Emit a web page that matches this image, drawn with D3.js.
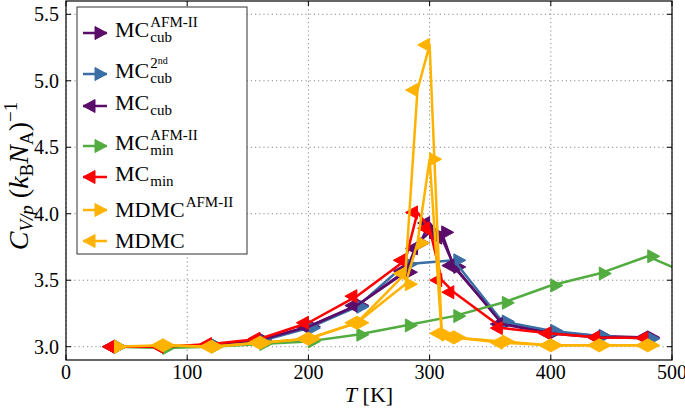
<!DOCTYPE html>
<html><head><meta charset="utf-8">
<script src="https://cdn.jsdelivr.net/npm/d3@7"></script>
<style>body{margin:0;background:#fff} svg{display:block}</style>
</head><body>
<script>
// ---- data ----
const mcCubAfmT = [40,80,120,160,200,240,280,290,300,310,320,360,400,440,480];
const mcCubAfmC = [3.00,3.00,3.01,3.05,3.15,3.31,3.56,3.78,3.86,3.86,3.60,3.18,3.11,3.08,3.07];
const mcCub2ndT = [40,80,120,160,200,240,280,320,360,400,440,480];
const mcCub2ndC = [3.00,3.00,3.01,3.04,3.14,3.30,3.62,3.65,3.19,3.12,3.08,3.06];
const mcCubT = [40,80,120,160,200,240,280,290,300,310,320,360,400,440,480];
const mcCubC = [3.00,3.00,3.01,3.05,3.15,3.31,3.57,3.74,3.93,3.82,3.61,3.17,3.10,3.07,3.07];
const mcMinAfmT = [40,80,120,160,200,240,280,320,360,400,440,480,520];
const mcMinAfmC = [3.00,2.99,3.00,3.02,3.04,3.09,3.16,3.23,3.33,3.46,3.55,3.68,3.52];
const mcMinT = [40,80,120,160,200,240,280,290,300,310,320,360,400,440,480];
const mcMinC = [3.00,3.00,3.02,3.06,3.18,3.38,3.65,4.01,3.89,3.50,3.41,3.14,3.10,3.07,3.065];
const mdmcAfmT = [40,80,120,160,200,240,280,290,300,310,320,360,400,440,480];
const mdmcAfmC = [3.00,3.01,3.00,3.03,3.06,3.18,3.47,3.78,4.41,3.09,3.07,3.04,3.01,3.01,3.01];
const mdmcT = [80,120,160,200,240,280,290,300,310,320,360,400,440,480];
const mdmcC = [3.01,3.00,3.03,3.06,3.18,3.55,4.93,5.27,3.10,3.07,3.03,3.01,3.01,3.01];

const xTicks = [0,100,200,300,400,500];
const yTicks = [3.0,3.5,4.0,4.5,5.0,5.5];
const xTickLabels = ["0","100","200","300","400","500"];
const yTickLabels = ["3.0","3.5","4.0","4.5","5.0","5.5"];

const series = [
  {T: mcCubAfmT, C: mcCubAfmC, color: "#5b0d6b", dir: 1, main: "MC", sup: "AFM-II", sub: "cub"},
  {T: mcCub2ndT, C: mcCub2ndC, color: "#3a6ea5", dir: 1, main: "MC", sup: "2nd", sub: "cub"},
  {T: mcCubT, C: mcCubC, color: "#5b0d6b", dir: -1, main: "MC", sup: null, sub: "cub"},
  {T: mcMinAfmT, C: mcMinAfmC, color: "#52ac40", dir: 1, main: "MC", sup: "AFM-II", sub: "min"},
  {T: mcMinT, C: mcMinC, color: "#ff0000", dir: -1, main: "MC", sup: null, sub: "min"},
  {T: mdmcAfmT, C: mdmcAfmC, color: "#ffb300", dir: 1, main: "MDMC", sup: "AFM-II", sub: null},
  {T: mdmcT, C: mdmcC, color: "#ffb300", dir: -1, main: "MDMC", sup: null, sub: null}
];

// ---- layout ----
const W = 685, H = 408;
const L = 66, R = 672, TOP = 1, BOT = 360;
const FONT = "'Liberation Serif', 'DejaVu Serif', serif";

const svg = d3.select("body").append("svg").attr("width", W).attr("height", H);
const x = d3.scaleLinear().domain([0,500]).range([L,R]);
const y = d3.scaleLinear().domain([2.9,5.6]).range([BOT,TOP]);

svg.append("defs").append("clipPath").attr("id","clip")
  .append("rect").attr("x",L).attr("y",TOP).attr("width",R-L).attr("height",BOT-TOP);

// grid
const grid = svg.append("g");
grid.selectAll("line.gx").data(xTicks).join("line")
  .attr("x1", d=>x(d)).attr("x2", d=>x(d)).attr("y1", TOP).attr("y2", BOT)
  .attr("stroke","#888").attr("stroke-width",1).attr("stroke-dasharray","1.2,3");
grid.selectAll("line.gy").data(yTicks).join("line")
  .attr("y1", d=>y(d)).attr("y2", d=>y(d)).attr("x1", L).attr("x2", R)
  .attr("stroke","#888").attr("stroke-width",1).attr("stroke-dasharray","1.2,3");

// caret marker (base at data point)
function caret(dir, len=12, hh=6.5){
  return `M0,${-hh}L${dir*len},0L0,${hh}Z`;
}

const plot = svg.append("g").attr("clip-path","url(#clip)");
const line = d3.line().x(d=>x(d[0])).y(d=>y(d[1]));
series.forEach(s=>{
  const pts = s.T.map((t,i)=>[t, s.C[i]]);
  const g = plot.append("g");
  g.append("path").datum(pts).attr("d", line)
    .attr("fill","none").attr("stroke", s.color).attr("stroke-width",2.5).attr("stroke-linejoin","round");
  g.selectAll("path.m").data(pts).join("path")
    .attr("d", caret(s.dir))
    .attr("transform", d=>`translate(${x(d[0])},${y(d[1])})`)
    .attr("fill", s.color).attr("stroke", s.color).attr("stroke-width",1);
});

// frame
svg.append("rect").attr("x",L).attr("y",TOP).attr("width",R-L).attr("height",BOT-TOP)
  .attr("fill","none").attr("stroke","#000").attr("stroke-width",1.2);

// ticks (inside, all sides)
const tk = svg.append("g").attr("stroke","#000").attr("stroke-width",1);
xTicks.forEach(t=>{
  tk.append("line").attr("x1",x(t)).attr("x2",x(t)).attr("y1",BOT).attr("y2",BOT-5);
  tk.append("line").attr("x1",x(t)).attr("x2",x(t)).attr("y1",TOP).attr("y2",TOP+5);
});
yTicks.forEach(t=>{
  tk.append("line").attr("y1",y(t)).attr("y2",y(t)).attr("x1",L).attr("x2",L+5);
  tk.append("line").attr("y1",y(t)).attr("y2",y(t)).attr("x1",R).attr("x2",R-5);
});

// tick labels
svg.append("g").selectAll("text").data(xTicks).join("text")
  .attr("x", d=>x(d)).attr("y", 379).attr("text-anchor","middle")
  .attr("font-family",FONT).attr("font-size",20)
  .text((d,i)=>xTickLabels[i]);
svg.append("g").selectAll("text").data(yTicks).join("text")
  .attr("x", 59).attr("y", d=>y(d)+7).attr("text-anchor","end")
  .attr("font-family",FONT).attr("font-size",20)
  .text((d,i)=>yTickLabels[i]);

// x label
const xl = svg.append("text").attr("x",(L+R)/2).attr("y",402).attr("text-anchor","middle")
  .attr("font-family",FONT).attr("font-size",22);
xl.append("tspan").attr("font-style","italic").text("T");
xl.append("tspan").text(" [K]");

// y label
const yl = svg.append("text").attr("transform","translate(28,176) rotate(-90)")
  .attr("text-anchor","middle").attr("font-family",FONT).attr("font-size",28);
yl.append("tspan").attr("font-style","italic").text("C");
yl.append("tspan").attr("font-style","italic").attr("font-size",19).attr("dy",5).text("V/p");
yl.append("tspan").attr("dy",-5).text(" (");
yl.append("tspan").attr("font-style","italic").text("k");
yl.append("tspan").attr("font-size",19).attr("dy",5).text("B");
yl.append("tspan").attr("font-style","italic").attr("dy",-5).text("N");
yl.append("tspan").attr("font-size",19).attr("dy",5).text("A");
yl.append("tspan").attr("dy",-5).text(")");
yl.append("tspan").attr("font-size",19).attr("dy",-11).text("\u22121");

// legend
const lg = svg.append("g");
lg.append("rect").attr("x",77).attr("y",7).attr("width",170).attr("height",247)
  .attr("fill","#fff").attr("stroke","#333").attr("stroke-width",1);
const entryY = [33, 74, 106, 146, 177, 210, 241];
series.forEach((s,i)=>{
  const cy = entryY[i];
  lg.append("line").attr("x1",83).attr("x2",107).attr("y1",cy).attr("y2",cy)
    .attr("stroke",s.color).attr("stroke-width",2.5);
  lg.append("path").attr("d",caret(s.dir)).attr("transform",`translate(95,${cy})`)
    .attr("fill",s.color).attr("stroke",s.color).attr("stroke-width",1);
  const base = cy + (s.sub ? 4 : 7);
  const t = lg.append("text").attr("x",115).attr("y",base)
    .attr("font-family",FONT).attr("font-size",22).text(s.main);
  const w = t.node().getComputedTextLength();
  if (s.sup) {
    const st = lg.append("text").attr("x",115+w+1).attr("y",base-10)
      .attr("font-family",FONT).attr("font-size",15);
    if (s.sup === "2nd") {
      st.append("tspan").text("2");
      st.append("tspan").attr("font-size",10).attr("dy",-4).text("nd");
    } else st.text(s.sup);
  }
  if (s.sub) {
    lg.append("text").attr("x",115+w+1).attr("y",base+5)
      .attr("font-family",FONT).attr("font-size",15).text(s.sub);
  }
});
</script>
</body></html>
